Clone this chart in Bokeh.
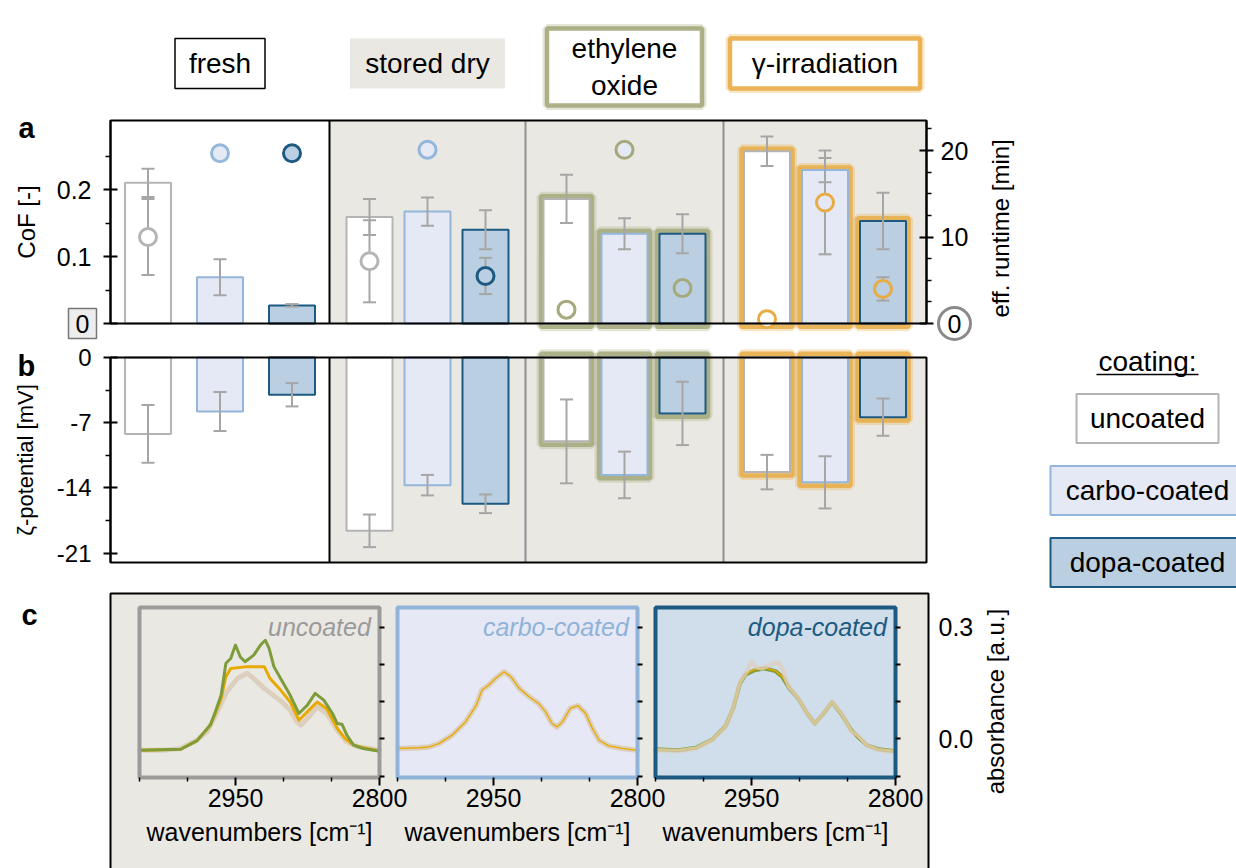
import math
from bokeh.plotting import figure
from bokeh.models import Range1d, LinearAxis, FixedTicker, PrintfTickFormatter, ColumnDataSource
from bokeh.embed import file_html
from bokeh.resources import INLINE
from bokeh.core.properties import value

# ======================= DATA =======================
TREATMENTS = ["fresh", "stored dry", "ethylene\noxide", "γ-irradiation"]
COATINGS = ["uncoated", "carbo-coated", "dopa-coated"]

# panel a: coefficient of friction (bars, left axis)  [treatment][coating]
COF_MEAN = [[0.210, 0.069, 0.027],
            [0.159, 0.167, 0.140],
            [0.186, 0.134, 0.134],
            [0.257, 0.229, 0.153]]
COF_ERR = [[0.021, 0.027, 0.002],
           [0.027, 0.021, 0.029],
           [0.036, 0.023, 0.029],
           [0.022, 0.018, 0.042]]
# panel a: effective runtime in min (circles, right axis)
RUNTIME_MEAN = [[10.0, 19.7, 19.7],
                [7.2, 20.1, 5.5],
                [1.6, 20.1, 4.1],
                [0.5, 14.0, 4.0]]
RUNTIME_ERR = [[4.4, 0.0, 0.0],
               [4.75, 0.0, 2.1],
               [0.0, 0.0, 0.0],
               [0.0, 6.0, 1.35]]
# panel b: zeta potential in mV
ZETA_MEAN = [[-8.2, -5.8, -4.0],
             [-18.6, -13.7, -15.7],
             [-9.0, -12.6, -6.0],
             [-12.3, -13.4, -6.4]]
ZETA_ERR = [[3.1, 2.1, 1.25],
            [1.75, 1.1, 1.0],
            [4.5, 2.5, 3.4],
            [1.85, 2.8, 2.0]]

COF_TICKS = [0, 0.1, 0.2]
COF_MINOR = [0.05, 0.15, 0.25]
RUNTIME_TICKS = [0, 10, 20]
RUNTIME_MINOR = [2.5, 5, 7.5, 12.5, 15, 17.5, 22.5]
ZETA_TICKS = [0, -7, -14, -21]
ZETA_MINOR = [-3.5, -10.5, -17.5]
WN_TICKS = [2950, 2800]
WN_MINOR = [3050, 3000, 2900, 2850]
ABS_TICKS = [-0.1, 0.0, 0.1, 0.2, 0.3]
ABS_LABELLED = [0.0, 0.3]

# panel c: IR spectra (wavenumber, absorbance)
UNC_BEIGE_WN = [3050, 3025, 3007, 2990, 2979, 2969, 2960, 2955, 2948, 2938, 2931, 2920, 2913,
                2906, 2900, 2893, 2886, 2882, 2875, 2865, 2855, 2844, 2834, 2823, 2810, 2800]
UNC_BEIGE_A = [-0.031, -0.031, -0.026, -0.003, 0.021, 0.073, 0.122, 0.140, 0.162, 0.176, 0.162,
               0.135, 0.122, 0.108, 0.095, 0.077, 0.046, 0.037, 0.055, 0.086, 0.068, 0.023,
               -0.008, -0.021, -0.026, -0.031]
UNC_ORANGE_WN = [3049, 3007, 2990, 2976, 2971, 2965, 2960, 2955, 2938, 2920, 2914, 2903, 2893,
                 2884, 2875, 2865, 2855, 2844, 2836, 2827, 2817, 2801]
UNC_ORANGE_A = [-0.031, -0.028, -0.005, 0.038, 0.068, 0.108, 0.167, 0.189, 0.194, 0.194, 0.162,
                0.131, 0.099, 0.050, 0.073, 0.099, 0.081, 0.028, 0.001, -0.017, -0.024, -0.032]
UNC_GREEN_WN = [3049, 3007, 2990, 2976, 2971, 2965, 2960, 2955, 2950, 2945, 2940, 2931, 2924,
                2919, 2915, 2910, 2903, 2893, 2884, 2875, 2867, 2858, 2849, 2844, 2839, 2834,
                2827, 2817, 2801]
UNC_GREEN_A = [-0.031, -0.028, -0.005, 0.038, 0.073, 0.117, 0.203, 0.216, 0.252, 0.220, 0.207,
               0.225, 0.252, 0.265, 0.243, 0.194, 0.162, 0.117, 0.068, 0.091, 0.122, 0.104,
               0.068, 0.041, 0.039, 0.010, -0.017, -0.026, -0.033]
CARBO_WN = [3048, 3027, 3017, 3007, 2993, 2979, 2968, 2962, 2955, 2948, 2939, 2932, 2923, 2913,
            2903, 2896, 2889, 2884, 2878, 2870, 2862, 2854, 2847, 2840, 2830, 2816, 2800]
CARBO_A = [-0.026, -0.024, -0.022, -0.013, 0.010, 0.046, 0.090, 0.131, 0.144, 0.162, 0.180,
           0.167, 0.135, 0.113, 0.095, 0.073, 0.041, 0.032, 0.046, 0.082, 0.089, 0.068, 0.028,
           -0.004, -0.019, -0.026, -0.031]
DOPA_BEIGE_WN = [3050, 3026, 3008, 2991, 2977, 2969, 2962, 2956, 2950, 2946, 2939, 2931, 2922,
                 2918, 2911, 2901, 2892, 2884, 2875, 2866, 2856, 2846, 2839, 2830, 2818, 2802]
DOPA_BEIGE_A = [-0.031, -0.033, -0.026, -0.003, 0.032, 0.082, 0.153, 0.176, 0.207, 0.194, 0.189,
                0.200, 0.205, 0.189, 0.140, 0.108, 0.068, 0.041, 0.068, 0.099, 0.068, 0.019,
                0.010, -0.017, -0.031, -0.035]
DOPA_TREATED_WN = [3050, 3026, 3008, 2991, 2977, 2969, 2962, 2956, 2946, 2936, 2925, 2918, 2911,
                   2901, 2892, 2884, 2875, 2866, 2856, 2846, 2839, 2830, 2818, 2802]
DOPA_GREEN_A = [-0.028, -0.031, -0.024, -0.002, 0.034, 0.082, 0.149, 0.173, 0.185, 0.189, 0.182,
                0.167, 0.137, 0.107, 0.068, 0.041, 0.068, 0.098, 0.065, 0.023, 0.005, -0.017,
                -0.028, -0.033]
DOPA_ORANGE_A = [-0.029, -0.031, -0.025, -0.002, 0.035, 0.083, 0.150, 0.175, 0.187, 0.190, 0.183,
                 0.168, 0.138, 0.108, 0.068, 0.041, 0.069, 0.100, 0.066, 0.022, 0.005, -0.017,
                 -0.028, -0.032]

# ======================= STYLE / LAYOUT =======================
FONT = "Liberation Sans"
BG = "#eae8e3"
ERR = "#a6a6a6"
COAT_FILL = ["#ffffff", "#e5e8f5", "#bacfe2"]
COAT_LINE = ["#b4b4b4", "#93b6da", "#1d5a82"]
TREAT_GLOW = [None, None, "#a5a97b", "#e8ac45"]
SUB_FILL = [BG, "#e6e9f5", "#cfdeea"]
SUB_LINE = ["#9b9b9b", "#8fb3d9", "#1d5a82"]
SUB_TEXT = ["#9a9a9a", "#8fb3d9", "#1d5a82"]
C_BEIGE, C_ORANGE, C_GREEN = "#dccfbe", "#e8a900", "#7e9c3b"

W, H = 1236, 868                       # canvas (pixel) size
GROUP_EDGES = [0, 219, 415, 613, 816]  # panel a/b x units (px from the frame's left edge)
BAR_STEP = [72, 58, 58, 58]
BAR_W = 46
PA_X0 = 110                            # left edge of panels a/b on the canvas
PA_BASE_PX, PA_TOP_PX = 323, 120
PB_TOP_PX, PB_BOT_PX = 357, 562
COF_TOP = 0.303
RT_TOP = COF_TOP * 77.5
ZETA_BOT = -22
C_LEFT_PX = [139, 397, 655]
C_FRAME_W = 240
ABS_ZERO_PX, ABS_03_PX = 738.3, 626.7
ABS_TOP, ABS_BOT = 0.353, -0.104
C_BOX = (110, 928, 593)
HDR_Y = [63, 63, 66.5, 63]
HDR_W = [90, 155, 155, 190]
HDR_H = [50, 50, 77, 50]
LEG_X = 1147
LEG_Y = [418, 490, 562]
LEG_W = [142, 194, 194]
LEG_H = 49


def xr(v0, p0, v1, p1):
    k = (v1 - v0) / (p1 - p0)
    return Range1d(v0 - p0 * k, v0 + (W - p0) * k)


def yr(v0, p0, v1, p1):
    k = (v1 - v0) / (p0 - p1)
    return Range1d(v0 - (H - p0) * k, v0 + p0 * k)


def bar_x(g, i):
    return (GROUP_EDGES[g] + GROUP_EDGES[g + 1]) / 2 + (i - 1) * BAR_STEP[g]


p = figure(width=W, height=H, x_range=Range1d(0, W), y_range=Range1d(H, 0),
           min_border_left=0, min_border_right=0, min_border_top=0, min_border_bottom=0,
           x_axis_type=None, y_axis_type=None, output_backend="svg", toolbar_location=None)
p.outline_line_color = None
p.background_fill_color = "white"
p.border_fill_color = "white"

p.extra_x_ranges = {"grp": xr(0, PA_X0, GROUP_EDGES[-1], PA_X0 + GROUP_EDGES[-1])}
for k in range(3):
    p.extra_x_ranges["wn%d" % k] = xr(3050, C_LEFT_PX[k], 2800, C_LEFT_PX[k] + C_FRAME_W)
p.extra_y_ranges = {
    "cof": yr(0, PA_BASE_PX, COF_TOP, PA_TOP_PX),
    "rt": yr(0, PA_BASE_PX, RT_TOP, PA_TOP_PX),
    "zeta": yr(0, PB_TOP_PX, ZETA_BOT, PB_BOT_PX),
    "abs": yr(0.0, ABS_ZERO_PX, 0.3, ABS_03_PX),
}


def style_axis(ax, label_size="24px", tick_size="24px"):
    ax.axis_line_color = "black"
    ax.axis_line_width = 2
    ax.major_tick_line_color = "black"
    ax.major_tick_line_width = 2
    ax.major_tick_in = 7
    ax.major_tick_out = 7
    ax.minor_tick_line_color = "black"
    ax.minor_tick_line_width = 1.5
    ax.minor_tick_in = 0
    ax.minor_tick_out = 5
    ax.major_label_text_font = FONT
    ax.major_label_text_font_size = tick_size
    ax.major_label_text_color = "black"
    ax.axis_label_text_font = FONT
    ax.axis_label_text_font_size = label_size
    ax.axis_label_text_font_style = "normal"
    ax.axis_label_text_color = "black"


def add_axis(side, xname, yname, loc, bounds, ticks, minor, fmt=None, label=None,
             label_size="24px", tick_size="24px"):
    ax = LinearAxis(x_range_name=xname, y_range_name=yname, fixed_location=loc, bounds=bounds,
                    ticker=FixedTicker(ticks=ticks, minor_ticks=minor))
    if fmt:
        ax.formatter = PrintfTickFormatter(format=fmt)
    if label:
        ax.axis_label = label
    style_axis(ax, label_size, tick_size)
    p.add_layout(ax, side)
    return ax


def txt(x, y, text, size, **kw):
    kw.setdefault("text_align", "center")
    kw.setdefault("text_baseline", "middle")
    kw.setdefault("text_color", "black")
    p.text(x=x, y=y, text=text, text_font=value(FONT), text_font_size=size, **kw)


# ---------- per-bar table ----------
rec = {k: [] for k in ["x", "g", "fill", "line", "ring", "glow", "cof", "cof_lo", "cof_hi",
                       "cof_gtop", "rt", "rt_lo", "rt_hi", "rt_err", "z", "z_lo", "z_hi",
                       "z_gbot"]}
for g in range(4):
    for i in range(3):
        rec["x"].append(bar_x(g, i))
        rec["g"].append(g)
        rec["fill"].append(COAT_FILL[i])
        rec["line"].append(COAT_LINE[i])
        rec["ring"].append(TREAT_GLOW[g] or COAT_LINE[i])
        rec["glow"].append(TREAT_GLOW[g] or "#ffffff")
        c, ce = COF_MEAN[g][i], COF_ERR[g][i]
        rec["cof"].append(c); rec["cof_lo"].append(c - ce); rec["cof_hi"].append(c + ce)
        rec["cof_gtop"].append(c + 0.004)
        r, re_ = RUNTIME_MEAN[g][i], RUNTIME_ERR[g][i]
        rec["rt"].append(r); rec["rt_lo"].append(r - re_); rec["rt_hi"].append(r + re_)
        rec["rt_err"].append(re_)
        z, ze = ZETA_MEAN[g][i], ZETA_ERR[g][i]
        rec["z"].append(z); rec["z_lo"].append(z - ze); rec["z_hi"].append(z + ze)
        rec["z_gbot"].append(z - 0.35)

src = ColumnDataSource(rec)
glow_src = ColumnDataSource({k: [v for v, g in zip(rec[k], rec["g"]) if g >= 2] for k in rec})
rterr_src = ColumnDataSource({k: [v for v, e in zip(rec[k], rec["rt_err"]) if e > 0] for k in rec})

# ---------- panel c grey box (drawn first, underneath) ----------
p.quad(left=[C_BOX[0]], right=[C_BOX[1]], top=[C_BOX[2]], bottom=[H + 12], fill_color=BG,
       line_color="black", line_width=2)


# ---------- panel a / b backgrounds ----------
def panel_background(yname, y0, y1):
    p.quad(left=GROUP_EDGES[1:4], right=GROUP_EDGES[2:5], bottom=[y0] * 3, top=[y1] * 3,
           fill_color=BG, line_color=None, x_range_name="grp", y_range_name=yname)
    p.segment(x0=GROUP_EDGES[2:4], x1=GROUP_EDGES[2:4], y0=[y0] * 2, y1=[y1] * 2,
              line_color="#8f8f8f", line_width=2, x_range_name="grp", y_range_name=yname)
    p.segment(x0=[GROUP_EDGES[1]], x1=[GROUP_EDGES[1]], y0=[y0], y1=[y1],
              line_color="black", line_width=2, x_range_name="grp", y_range_name=yname)


def panel_frame(yname, y0, y1):
    p.quad(left=[GROUP_EDGES[0]], right=[GROUP_EDGES[-1]], bottom=[y0], top=[y1],
           fill_alpha=0, line_color="black", line_width=2, x_range_name="grp",
           y_range_name=yname)


# ======================= PANEL A =======================
panel_background("cof", 0, COF_TOP)
A = dict(x_range_name="grp", y_range_name="cof")
R = dict(x_range_name="grp", y_range_name="rt")
p.vbar(x="x", width=BAR_W + 5, top="cof_gtop", bottom=-0.005, source=glow_src,
       fill_alpha=0, line_color="glow", line_width=9, line_alpha=0.3, **A)
p.vbar(x="x", width=BAR_W + 5, top="cof_gtop", bottom=-0.005, source=glow_src,
       fill_alpha=0, line_color="glow", line_width=4.5, line_alpha=0.85, **A)
p.vbar(x="x", width=BAR_W, top="cof", bottom=0, source=src, fill_color="fill",
       line_color="line", line_width=2, **A)
p.segment(x0="x", x1="x", y0="cof_lo", y1="cof_hi", source=src, line_color=ERR, line_width=2, **A)
p.scatter(x="x", y="cof_lo", marker="dash", size=13, source=src, line_color=ERR, line_width=2, **A)
p.scatter(x="x", y="cof_hi", marker="dash", size=13, source=src, line_color=ERR, line_width=2, **A)
p.segment(x0="x", x1="x", y0="rt_lo", y1="rt_hi", source=rterr_src, line_color=ERR,
          line_width=2, **R)
p.scatter(x="x", y="rt_lo", marker="dash", size=13, source=rterr_src, line_color=ERR,
          line_width=2, **R)
p.scatter(x="x", y="rt_hi", marker="dash", size=13, source=rterr_src, line_color=ERR,
          line_width=2, **R)
p.scatter(x="x", y="rt", marker="circle", size=17, source=src, fill_color="fill",
          line_color="ring", line_width=3, **R)
panel_frame("cof", 0, COF_TOP)

ax = add_axis("left", "grp", "cof", 0, (0, COF_TOP), COF_TICKS, COF_MINOR, "%.1f", "CoF [-]",
              tick_size="25px")
ax.major_label_overrides = {0: ""}
ax.major_label_standoff = 12
ax.axis_label_standoff = 14
ax = add_axis("right", "grp", "rt", GROUP_EDGES[-1], (0, RT_TOP), RUNTIME_TICKS, RUNTIME_MINOR,
              "%d", tick_size="25px")
ax.major_label_overrides = {0: ""}
ax.major_label_standoff = 7

# zero marks of the two axes
p.rect(x=[-28], y=[0], width=[28], height=[30], width_units="screen", height_units="screen",
       fill_color="#ededed", line_color="#777777", line_width=1.5, **A)
txt([-28], [0], ["0"], "25px", **A)
p.scatter(x=[844], y=[0], marker="circle", size=32, fill_color="white", line_color="#8a8a8a",
          line_width=3, **A)
txt([844], [0], ["0"], "25px", **A)
txt([890], [11.0], ["eff. runtime [min]"], "24px", angle=math.pi / 2, **R)

# ======================= PANEL B =======================
panel_background("zeta", ZETA_BOT, 0)
Z = dict(x_range_name="grp", y_range_name="zeta")
p.vbar(x="x", width=BAR_W + 5, top=0.4, bottom="z_gbot", source=glow_src,
       fill_alpha=0, line_color="glow", line_width=9, line_alpha=0.3, **Z)
p.vbar(x="x", width=BAR_W + 5, top=0.4, bottom="z_gbot", source=glow_src,
       fill_alpha=0, line_color="glow", line_width=4.5, line_alpha=0.85, **Z)
p.vbar(x="x", width=BAR_W, top=0, bottom="z", source=src, fill_color="fill",
       line_color="line", line_width=2, **Z)
p.segment(x0="x", x1="x", y0="z_lo", y1="z_hi", source=src, line_color=ERR, line_width=2, **Z)
p.scatter(x="x", y="z_lo", marker="dash", size=13, source=src, line_color=ERR, line_width=2, **Z)
p.scatter(x="x", y="z_hi", marker="dash", size=13, source=src, line_color=ERR, line_width=2, **Z)
panel_frame("zeta", ZETA_BOT, 0)
ax = add_axis("left", "grp", "zeta", 0, (ZETA_BOT, 0), ZETA_TICKS, ZETA_MINOR, "%d",
              "ζ-potential [mV]", label_size="22px")
ax.major_label_standoff = 12
ax.axis_label_standoff = 16

# ======================= HEADER =======================
hx = [(GROUP_EDGES[g] + GROUP_EDGES[g + 1]) / 2 for g in range(4)]
HD = dict(x_range_name="grp")
for g in range(4):
    if TREAT_GLOW[g]:
        p.rect(x=[hx[g]], y=[HDR_Y[g]], width=[HDR_W[g]], height=[HDR_H[g]],
               width_units="screen", height_units="screen", fill_alpha=0,
               line_color=TREAT_GLOW[g], line_width=9, line_alpha=0.3, **HD)
        p.rect(x=[hx[g]], y=[HDR_Y[g]], width=[HDR_W[g]], height=[HDR_H[g]],
               width_units="screen", height_units="screen", fill_color="white",
               line_color=TREAT_GLOW[g], line_width=4.5, line_alpha=0.9, **HD)
    elif g == 0:
        p.rect(x=[hx[g]], y=[HDR_Y[g]], width=[HDR_W[g]], height=[HDR_H[g]],
               width_units="screen", height_units="screen", fill_color="white",
               line_color="black", line_width=1.5, **HD)
    else:
        p.rect(x=[hx[g]], y=[HDR_Y[g]], width=[HDR_W[g]], height=[HDR_H[g]],
               width_units="screen", height_units="screen", fill_color=BG, line_color=None, **HD)
txt(hx, HDR_Y, TREATMENTS, "28px", text_line_height=1.2, **HD)

# ======================= LEGEND =======================
p.rect(x=[LEG_X] * 3, y=LEG_Y, width=LEG_W, height=[LEG_H] * 3, width_units="screen",
       height_units="screen", fill_color=COAT_FILL, line_color=COAT_LINE, line_width=2)
txt([LEG_X] * 3, LEG_Y, COATINGS, "28px")
txt([LEG_X], [LEG_Y[0] - 57], ["coating:"], "28px")
p.rect(x=[LEG_X], y=[LEG_Y[0] - 44], width=[102], height=[1.5], width_units="screen",
       height_units="screen", fill_color="black", line_color=None)

# panel letters
txt([18, 17, 21], [127, 365, 614], ["a", "b", "c"], "29px", text_align="left",
    text_baseline="alphabetic", text_font_style="bold")

# ======================= PANEL C =======================
SPECTRA = [
    [(UNC_BEIGE_WN, UNC_BEIGE_A, C_BEIGE, 5, 1.0), (UNC_ORANGE_WN, UNC_ORANGE_A, C_ORANGE, 3, 1.0),
     (UNC_GREEN_WN, UNC_GREEN_A, C_GREEN, 3, 1.0)],
    [(CARBO_WN, CARBO_A, C_GREEN, 2, 1.0), (CARBO_WN, CARBO_A, C_BEIGE, 5.5, 1.0),
     (CARBO_WN, CARBO_A, C_ORANGE, 1.3, 1.0)],
    [(DOPA_TREATED_WN, DOPA_GREEN_A, C_GREEN, 4, 1.0),
     (DOPA_TREATED_WN, DOPA_ORANGE_A, C_ORANGE, 1.5, 1.0),
     (DOPA_BEIGE_WN, DOPA_BEIGE_A, C_BEIGE, 4.5, 0.75)],
]
for k in range(3):
    C = dict(x_range_name="wn%d" % k, y_range_name="abs")
    p.quad(left=[3050], right=[2800], bottom=[ABS_BOT], top=[ABS_TOP], fill_color=SUB_FILL[k],
           line_color=None, **C)
    for wn, a, col, lw, alpha in SPECTRA[k]:
        p.line(wn, a, line_color=col, line_width=lw, line_alpha=alpha, line_join="round",
               line_cap="round", **C)
    p.quad(left=[3050], right=[2800], bottom=[ABS_BOT], top=[ABS_TOP], fill_alpha=0,
           line_color=SUB_LINE[k], line_width=4, **C)
    txt([2809], [0.337], [COATINGS[k]], "25px", text_align="right", text_baseline="top",
        text_font_style="italic", text_color=SUB_TEXT[k], **C)
    ax = add_axis("below", "wn%d" % k, "abs", ABS_BOT, (2800, 3050), WN_TICKS, WN_MINOR, "%d",
                  "wavenumbers [cm⁻¹]", label_size="25px", tick_size="25px")
    ax.axis_line_color = None
    ax.major_tick_in = 0
    ax.major_tick_out = 8
    ax.minor_tick_out = 4
    ax.major_label_standoff = 4
    ax.axis_label_standoff = 7
    ax = add_axis("right", "wn%d" % k, "abs", 2800, (ABS_BOT, ABS_TOP), ABS_TICKS, [])
    ax.axis_line_color = None
    ax.major_tick_in = 0
    ax.major_tick_out = 5
    ax.major_label_overrides = {t: "" for t in ABS_TICKS}

ax = add_axis("right", "default", "abs", 930, (ABS_BOT, ABS_TOP), ABS_LABELLED, [], "%.1f",
              tick_size="25px")
ax.axis_line_color = None
ax.major_tick_in = 0
ax.major_tick_out = 0
ax.major_label_standoff = 8
txt([995], [0.1], ["absorbance [a.u.]"], "24px", angle=math.pi / 2, y_range_name="abs")

open("out.html", "w").write(file_html(p, INLINE))
